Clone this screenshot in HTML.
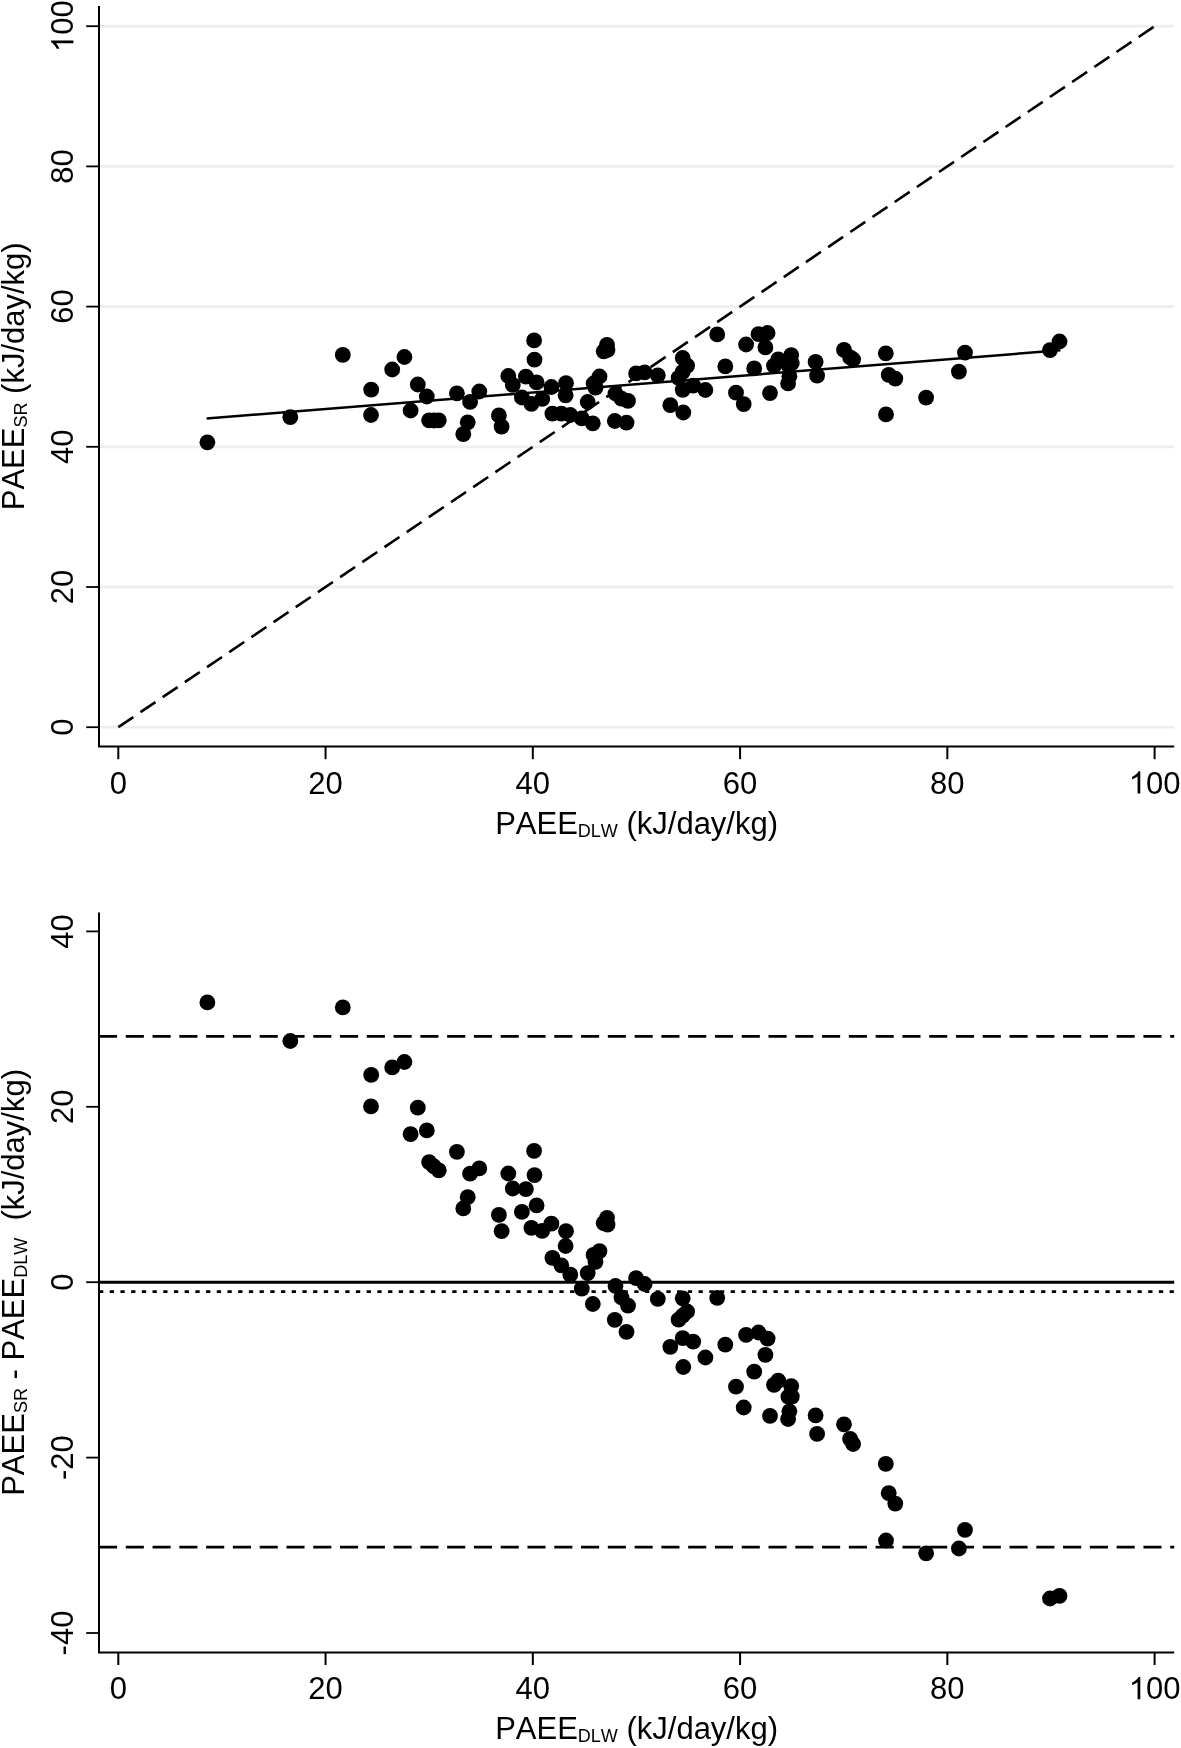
<!DOCTYPE html>
<html><head><meta charset="utf-8"><title>PAEE agreement</title>
<style>html,body{margin:0;padding:0;background:#fff;width:1181px;height:1748px;overflow:hidden}svg{display:block;position:absolute;left:0;top:0;will-change:transform}text{font-family:"Liberation Sans", sans-serif;fill:#000;font-kerning:none}</style></head><body>
<svg width="1181" height="1748" viewBox="0 0 1181 1748">
<rect x="0" y="0" width="1181" height="1748" fill="#ffffff"/>
<g id="top">
<line x1="100.0" y1="727.20" x2="1174.2" y2="727.20" stroke="#e9f0f2" stroke-width="2.8"/>
<line x1="100.0" y1="587.00" x2="1174.2" y2="587.00" stroke="#e9f0f2" stroke-width="2.8"/>
<line x1="100.0" y1="446.80" x2="1174.2" y2="446.80" stroke="#e9f0f2" stroke-width="2.8"/>
<line x1="100.0" y1="306.60" x2="1174.2" y2="306.60" stroke="#e9f0f2" stroke-width="2.8"/>
<line x1="100.0" y1="166.40" x2="1174.2" y2="166.40" stroke="#e9f0f2" stroke-width="2.8"/>
<line x1="100.0" y1="26.20" x2="1174.2" y2="26.20" stroke="#e9f0f2" stroke-width="2.8"/>
<line x1="118.30" y1="727.20" x2="1154.60" y2="26.20" stroke="#000" stroke-width="2.6" stroke-dasharray="18.1 8.68"/>
<line x1="206.6" y1="418.55" x2="1060.4" y2="350.25" stroke="#000" stroke-width="2.5"/>
<circle cx="207.4" cy="442.3" r="7.9"/>
<circle cx="290.3" cy="417.2" r="7.9"/>
<circle cx="342.8" cy="354.9" r="7.9"/>
<circle cx="371.2" cy="389.7" r="7.9"/>
<circle cx="392.2" cy="369.5" r="7.9"/>
<circle cx="404.4" cy="357.0" r="7.9"/>
<circle cx="371.0" cy="415.0" r="7.9"/>
<circle cx="417.8" cy="384.5" r="7.9"/>
<circle cx="410.6" cy="410.5" r="7.9"/>
<circle cx="426.8" cy="396.5" r="7.9"/>
<circle cx="456.9" cy="393.3" r="7.9"/>
<circle cx="429.1" cy="420.3" r="7.9"/>
<circle cx="434.0" cy="420.5" r="7.9"/>
<circle cx="438.8" cy="420.3" r="7.9"/>
<circle cx="479.3" cy="391.5" r="7.9"/>
<circle cx="470.1" cy="401.9" r="7.9"/>
<circle cx="534.1" cy="340.4" r="7.9"/>
<circle cx="508.3" cy="376.0" r="7.9"/>
<circle cx="534.5" cy="359.6" r="7.9"/>
<circle cx="512.8" cy="384.9" r="7.9"/>
<circle cx="525.9" cy="376.6" r="7.9"/>
<circle cx="467.7" cy="422.3" r="7.9"/>
<circle cx="463.3" cy="434.2" r="7.9"/>
<circle cx="536.6" cy="382.4" r="7.9"/>
<circle cx="521.9" cy="397.5" r="7.9"/>
<circle cx="498.9" cy="415.4" r="7.9"/>
<circle cx="607.0" cy="344.9" r="7.9"/>
<circle cx="607.5" cy="350.0" r="7.9"/>
<circle cx="501.6" cy="426.6" r="7.9"/>
<circle cx="551.4" cy="387.0" r="7.9"/>
<circle cx="531.4" cy="403.8" r="7.9"/>
<circle cx="542.2" cy="398.9" r="7.9"/>
<circle cx="566.0" cy="383.2" r="7.9"/>
<circle cx="565.6" cy="395.3" r="7.9"/>
<circle cx="603.7" cy="351.3" r="7.9"/>
<circle cx="552.4" cy="413.6" r="7.9"/>
<circle cx="561.3" cy="413.6" r="7.9"/>
<circle cx="570.3" cy="415.0" r="7.9"/>
<circle cx="599.5" cy="376.5" r="7.9"/>
<circle cx="593.6" cy="383.5" r="7.9"/>
<circle cx="595.5" cy="387.7" r="7.9"/>
<circle cx="587.7" cy="402.0" r="7.9"/>
<circle cx="581.8" cy="418.4" r="7.9"/>
<circle cx="592.8" cy="423.3" r="7.9"/>
<circle cx="636.1" cy="373.4" r="7.9"/>
<circle cx="644.6" cy="372.3" r="7.9"/>
<circle cx="615.5" cy="393.5" r="7.9"/>
<circle cx="621.5" cy="398.7" r="7.9"/>
<circle cx="628.0" cy="400.8" r="7.9"/>
<circle cx="614.8" cy="421.0" r="7.9"/>
<circle cx="626.5" cy="422.7" r="7.9"/>
<circle cx="657.8" cy="375.3" r="7.9"/>
<circle cx="670.3" cy="405.2" r="7.9"/>
<circle cx="682.7" cy="358.0" r="7.9"/>
<circle cx="717.2" cy="334.4" r="7.9"/>
<circle cx="687.1" cy="365.6" r="7.9"/>
<circle cx="682.7" cy="371.9" r="7.9"/>
<circle cx="678.6" cy="377.9" r="7.9"/>
<circle cx="682.7" cy="389.8" r="7.9"/>
<circle cx="693.2" cy="385.6" r="7.9"/>
<circle cx="683.3" cy="412.5" r="7.9"/>
<circle cx="705.4" cy="390.0" r="7.9"/>
<circle cx="725.3" cy="366.4" r="7.9"/>
<circle cx="746.1" cy="344.5" r="7.9"/>
<circle cx="758.5" cy="334.2" r="7.9"/>
<circle cx="767.6" cy="333.0" r="7.9"/>
<circle cx="765.4" cy="347.4" r="7.9"/>
<circle cx="754.2" cy="368.4" r="7.9"/>
<circle cx="736.0" cy="392.7" r="7.9"/>
<circle cx="743.7" cy="404.1" r="7.9"/>
<circle cx="778.2" cy="359.4" r="7.9"/>
<circle cx="774.0" cy="365.6" r="7.9"/>
<circle cx="791.2" cy="355.1" r="7.9"/>
<circle cx="788.4" cy="365.3" r="7.9"/>
<circle cx="791.8" cy="363.1" r="7.9"/>
<circle cx="789.4" cy="376.3" r="7.9"/>
<circle cx="770.0" cy="393.1" r="7.9"/>
<circle cx="815.6" cy="361.9" r="7.9"/>
<circle cx="788.1" cy="383.4" r="7.9"/>
<circle cx="817.1" cy="375.7" r="7.9"/>
<circle cx="844.0" cy="349.9" r="7.9"/>
<circle cx="850.1" cy="357.4" r="7.9"/>
<circle cx="853.1" cy="359.5" r="7.9"/>
<circle cx="885.8" cy="353.3" r="7.9"/>
<circle cx="888.7" cy="374.8" r="7.9"/>
<circle cx="895.3" cy="378.6" r="7.9"/>
<circle cx="886.0" cy="414.4" r="7.9"/>
<circle cx="926.1" cy="397.6" r="7.9"/>
<circle cx="965.0" cy="352.6" r="7.9"/>
<circle cx="958.9" cy="371.6" r="7.9"/>
<circle cx="1050.0" cy="350.1" r="7.9"/>
<circle cx="1059.5" cy="341.5" r="7.9"/>
<path d="M99.0 6.0 V746.6 H1174.2" fill="none" stroke="#000" stroke-width="2"/>
<line x1="86.2" y1="727.20" x2="99.0" y2="727.20" stroke="#000" stroke-width="1.8"/>
<line x1="118.30" y1="746.6" x2="118.30" y2="759.2" stroke="#000" stroke-width="2"/>
<text transform="translate(118.30 793.50)" font-size="31" text-anchor="middle">0</text>
<text transform="translate(73.40 727.20) rotate(-90)" font-size="31" text-anchor="middle">0</text>
<line x1="86.2" y1="587.00" x2="99.0" y2="587.00" stroke="#000" stroke-width="1.8"/>
<line x1="325.56" y1="746.6" x2="325.56" y2="759.2" stroke="#000" stroke-width="2"/>
<text transform="translate(325.56 793.50)" font-size="31" text-anchor="middle">20</text>
<text transform="translate(73.40 587.00) rotate(-90)" font-size="31" text-anchor="middle">20</text>
<line x1="86.2" y1="446.80" x2="99.0" y2="446.80" stroke="#000" stroke-width="1.8"/>
<line x1="532.82" y1="746.6" x2="532.82" y2="759.2" stroke="#000" stroke-width="2"/>
<text transform="translate(532.82 793.50)" font-size="31" text-anchor="middle">40</text>
<text transform="translate(73.40 446.80) rotate(-90)" font-size="31" text-anchor="middle">40</text>
<line x1="86.2" y1="306.60" x2="99.0" y2="306.60" stroke="#000" stroke-width="1.8"/>
<line x1="740.08" y1="746.6" x2="740.08" y2="759.2" stroke="#000" stroke-width="2"/>
<text transform="translate(740.08 793.50)" font-size="31" text-anchor="middle">60</text>
<text transform="translate(73.40 306.60) rotate(-90)" font-size="31" text-anchor="middle">60</text>
<line x1="86.2" y1="166.40" x2="99.0" y2="166.40" stroke="#000" stroke-width="1.8"/>
<line x1="947.34" y1="746.6" x2="947.34" y2="759.2" stroke="#000" stroke-width="2"/>
<text transform="translate(947.34 793.50)" font-size="31" text-anchor="middle">80</text>
<text transform="translate(73.40 166.40) rotate(-90)" font-size="31" text-anchor="middle">80</text>
<line x1="86.2" y1="26.20" x2="99.0" y2="26.20" stroke="#000" stroke-width="1.8"/>
<line x1="1154.60" y1="746.6" x2="1154.60" y2="759.2" stroke="#000" stroke-width="2"/>
<g transform="translate(1154.60 793.50)"><path transform="translate(-25.86 0) scale(0.015137 -0.015137)" d="M763 0H583V1147Q518 1085 412.5 1023T223 930V1104Q374 1175 487 1276T647 1472H763Z"/><text x="-8.62" y="0" font-size="31" text-anchor="start">00</text></g>
<g transform="translate(73.40 26.20) rotate(-90)"><path transform="translate(-25.86 0) scale(0.015137 -0.015137)" d="M763 0H583V1147Q518 1085 412.5 1023T223 930V1104Q374 1175 487 1276T647 1472H763Z"/><text x="-8.62" y="0" font-size="31" text-anchor="start">00</text></g>
<text x="636.6" y="833.6" font-size="31" text-anchor="middle">PAEE<tspan font-size="18" dy="2.9">DLW</tspan><tspan dy="-2.9"> (kJ/day/kg)</tspan></text>
<text transform="translate(23.9 376.3) rotate(-90)" font-size="31" text-anchor="middle">PAEE<tspan font-size="18" dy="2.9">SR</tspan><tspan dy="-2.9"> (kJ/day/kg)</tspan></text>
</g>
<g id="bottom">
<line x1="99.0" y1="1036.4" x2="1174.2" y2="1036.4" stroke="#000" stroke-width="2.6" stroke-dasharray="18.1 8.68"/>
<line x1="99.0" y1="1547.1" x2="1174.2" y2="1547.1" stroke="#000" stroke-width="2.6" stroke-dasharray="18.1 8.68"/>
<line x1="99.0" y1="1282.3" x2="1174.2" y2="1282.3" stroke="#000" stroke-width="3"/>
<line x1="99.0" y1="1291.6" x2="1174.2" y2="1291.6" stroke="#000" stroke-width="2.8" stroke-dasharray="4.3 6.406"/>
<circle cx="207.4" cy="1002.4" r="7.9"/>
<circle cx="290.3" cy="1041.0" r="7.9"/>
<circle cx="342.8" cy="1007.4" r="7.9"/>
<circle cx="371.2" cy="1074.9" r="7.9"/>
<circle cx="392.2" cy="1067.4" r="7.9"/>
<circle cx="404.4" cy="1062.0" r="7.9"/>
<circle cx="371.0" cy="1106.4" r="7.9"/>
<circle cx="417.8" cy="1107.7" r="7.9"/>
<circle cx="410.6" cy="1134.2" r="7.9"/>
<circle cx="426.8" cy="1130.4" r="7.9"/>
<circle cx="456.9" cy="1151.8" r="7.9"/>
<circle cx="429.1" cy="1162.1" r="7.9"/>
<circle cx="434.0" cy="1166.5" r="7.9"/>
<circle cx="438.8" cy="1170.3" r="7.9"/>
<circle cx="479.3" cy="1168.4" r="7.9"/>
<circle cx="470.1" cy="1173.7" r="7.9"/>
<circle cx="534.1" cy="1150.8" r="7.9"/>
<circle cx="508.3" cy="1173.5" r="7.9"/>
<circle cx="534.5" cy="1175.1" r="7.9"/>
<circle cx="512.8" cy="1188.5" r="7.9"/>
<circle cx="525.9" cy="1189.1" r="7.9"/>
<circle cx="467.7" cy="1197.2" r="7.9"/>
<circle cx="463.3" cy="1208.4" r="7.9"/>
<circle cx="536.6" cy="1205.4" r="7.9"/>
<circle cx="521.9" cy="1211.9" r="7.9"/>
<circle cx="498.9" cy="1214.9" r="7.9"/>
<circle cx="607.0" cy="1217.9" r="7.9"/>
<circle cx="607.5" cy="1224.7" r="7.9"/>
<circle cx="501.6" cy="1231.2" r="7.9"/>
<circle cx="551.4" cy="1223.7" r="7.9"/>
<circle cx="531.4" cy="1227.8" r="7.9"/>
<circle cx="542.2" cy="1230.8" r="7.9"/>
<circle cx="566.0" cy="1231.2" r="7.9"/>
<circle cx="565.6" cy="1246.0" r="7.9"/>
<circle cx="603.7" cy="1223.2" r="7.9"/>
<circle cx="552.4" cy="1257.8" r="7.9"/>
<circle cx="561.3" cy="1265.3" r="7.9"/>
<circle cx="570.3" cy="1274.7" r="7.9"/>
<circle cx="599.5" cy="1251.1" r="7.9"/>
<circle cx="593.6" cy="1254.9" r="7.9"/>
<circle cx="595.5" cy="1261.8" r="7.9"/>
<circle cx="587.7" cy="1273.1" r="7.9"/>
<circle cx="581.8" cy="1288.7" r="7.9"/>
<circle cx="592.8" cy="1304.0" r="7.9"/>
<circle cx="636.1" cy="1278.2" r="7.9"/>
<circle cx="644.6" cy="1284.0" r="7.9"/>
<circle cx="615.5" cy="1286.0" r="7.9"/>
<circle cx="621.5" cy="1297.5" r="7.9"/>
<circle cx="628.0" cy="1305.6" r="7.9"/>
<circle cx="614.8" cy="1319.8" r="7.9"/>
<circle cx="626.5" cy="1331.8" r="7.9"/>
<circle cx="657.8" cy="1298.9" r="7.9"/>
<circle cx="670.3" cy="1346.8" r="7.9"/>
<circle cx="682.7" cy="1298.3" r="7.9"/>
<circle cx="717.2" cy="1297.9" r="7.9"/>
<circle cx="687.1" cy="1311.5" r="7.9"/>
<circle cx="682.7" cy="1315.6" r="7.9"/>
<circle cx="678.6" cy="1319.7" r="7.9"/>
<circle cx="682.7" cy="1338.1" r="7.9"/>
<circle cx="693.2" cy="1341.6" r="7.9"/>
<circle cx="683.3" cy="1367.0" r="7.9"/>
<circle cx="705.4" cy="1357.5" r="7.9"/>
<circle cx="725.3" cy="1344.7" r="7.9"/>
<circle cx="746.1" cy="1334.9" r="7.9"/>
<circle cx="758.5" cy="1332.5" r="7.9"/>
<circle cx="767.6" cy="1338.6" r="7.9"/>
<circle cx="765.4" cy="1354.8" r="7.9"/>
<circle cx="754.2" cy="1371.7" r="7.9"/>
<circle cx="736.0" cy="1386.7" r="7.9"/>
<circle cx="743.7" cy="1407.5" r="7.9"/>
<circle cx="778.2" cy="1380.6" r="7.9"/>
<circle cx="774.0" cy="1384.9" r="7.9"/>
<circle cx="791.2" cy="1386.2" r="7.9"/>
<circle cx="788.4" cy="1396.7" r="7.9"/>
<circle cx="791.8" cy="1396.7" r="7.9"/>
<circle cx="789.4" cy="1411.3" r="7.9"/>
<circle cx="770.0" cy="1415.9" r="7.9"/>
<circle cx="815.6" cy="1415.4" r="7.9"/>
<circle cx="788.1" cy="1419.0" r="7.9"/>
<circle cx="817.1" cy="1433.9" r="7.9"/>
<circle cx="844.0" cy="1424.3" r="7.9"/>
<circle cx="850.1" cy="1438.9" r="7.9"/>
<circle cx="853.1" cy="1444.0" r="7.9"/>
<circle cx="885.8" cy="1463.9" r="7.9"/>
<circle cx="888.7" cy="1493.2" r="7.9"/>
<circle cx="895.3" cy="1503.6" r="7.9"/>
<circle cx="886.0" cy="1540.5" r="7.9"/>
<circle cx="926.1" cy="1553.3" r="7.9"/>
<circle cx="965.0" cy="1529.8" r="7.9"/>
<circle cx="958.9" cy="1548.5" r="7.9"/>
<circle cx="1050.0" cy="1598.5" r="7.9"/>
<circle cx="1059.5" cy="1595.8" r="7.9"/>
<path d="M99.0 912.4 V1652.4 H1174.2" fill="none" stroke="#000" stroke-width="2"/>
<line x1="118.30" y1="1652.4" x2="118.30" y2="1665.0" stroke="#000" stroke-width="2"/>
<text transform="translate(118.30 1699.30)" font-size="31" text-anchor="middle">0</text>
<line x1="325.56" y1="1652.4" x2="325.56" y2="1665.0" stroke="#000" stroke-width="2"/>
<text transform="translate(325.56 1699.30)" font-size="31" text-anchor="middle">20</text>
<line x1="532.82" y1="1652.4" x2="532.82" y2="1665.0" stroke="#000" stroke-width="2"/>
<text transform="translate(532.82 1699.30)" font-size="31" text-anchor="middle">40</text>
<line x1="740.08" y1="1652.4" x2="740.08" y2="1665.0" stroke="#000" stroke-width="2"/>
<text transform="translate(740.08 1699.30)" font-size="31" text-anchor="middle">60</text>
<line x1="947.34" y1="1652.4" x2="947.34" y2="1665.0" stroke="#000" stroke-width="2"/>
<text transform="translate(947.34 1699.30)" font-size="31" text-anchor="middle">80</text>
<line x1="1154.60" y1="1652.4" x2="1154.60" y2="1665.0" stroke="#000" stroke-width="2"/>
<g transform="translate(1154.60 1699.30)"><path transform="translate(-25.86 0) scale(0.015137 -0.015137)" d="M763 0H583V1147Q518 1085 412.5 1023T223 930V1104Q374 1175 487 1276T647 1472H763Z"/><text x="-8.62" y="0" font-size="31" text-anchor="start">00</text></g>
<line x1="86.2" y1="1633.00" x2="99.0" y2="1633.00" stroke="#000" stroke-width="1.8"/>
<text transform="translate(73.40 1633.00) rotate(-90)" font-size="31" text-anchor="middle">-40</text>
<line x1="86.2" y1="1457.60" x2="99.0" y2="1457.60" stroke="#000" stroke-width="1.8"/>
<text transform="translate(73.40 1457.60) rotate(-90)" font-size="31" text-anchor="middle">-20</text>
<line x1="86.2" y1="1282.20" x2="99.0" y2="1282.20" stroke="#000" stroke-width="1.8"/>
<text transform="translate(73.40 1282.20) rotate(-90)" font-size="31" text-anchor="middle">0</text>
<line x1="86.2" y1="1106.80" x2="99.0" y2="1106.80" stroke="#000" stroke-width="1.8"/>
<text transform="translate(73.40 1106.80) rotate(-90)" font-size="31" text-anchor="middle">20</text>
<line x1="86.2" y1="931.40" x2="99.0" y2="931.40" stroke="#000" stroke-width="1.8"/>
<text transform="translate(73.40 931.40) rotate(-90)" font-size="31" text-anchor="middle">40</text>
<text x="636.6" y="1739.4" font-size="31" text-anchor="middle">PAEE<tspan font-size="18" dy="2.9">DLW</tspan><tspan dy="-2.9"> (kJ/day/kg)</tspan></text>
<text transform="translate(23.9 1282.4) rotate(-90)" font-size="31" text-anchor="middle">PAEE<tspan font-size="18" dy="2.9">SR</tspan><tspan dy="-2.9"> - PAEE</tspan><tspan font-size="18" dy="2.9">DLW</tspan><tspan dy="-2.9">&#160;&#160;(kJ/day/kg)</tspan></text>
</g>
</svg></body></html>
